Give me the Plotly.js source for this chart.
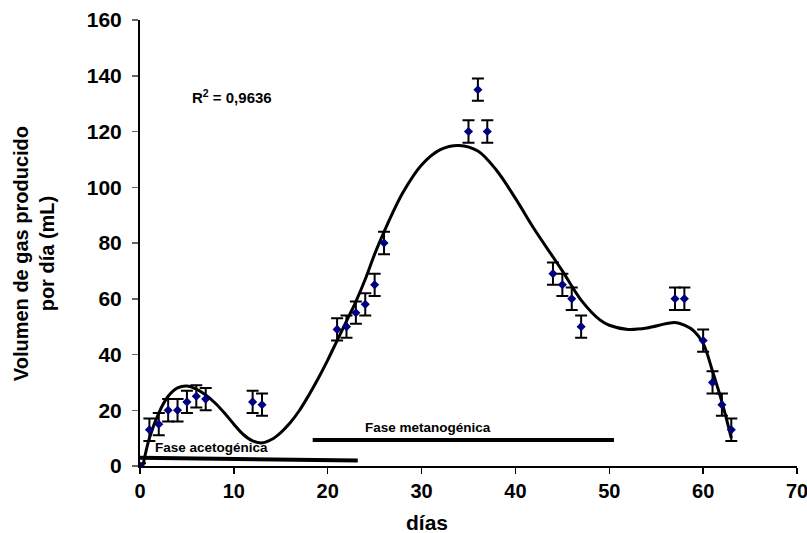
<!DOCTYPE html>
<html>
<head>
<meta charset="utf-8">
<script src="https://cdn.plot.ly/plotly-3.0.1.min.js"></script>
<style>body{margin:0;background:#fff}#chart{width:807px;height:533px}</style>
</head>
<body>
<div id="chart"></div>
<script>
// Measured data (días, mL)
var dias = [0,1,2,3,4,5,6,7,12,13,21,22,23,24,25,26,35,36,37,44,45,46,47,57,58,60,61,62,63];
var volumen = [0,13,15,20,20,23,25,24,23,22,49,50,55,58,65,80,120,135,120,69,65,60,50,60,60,45,30,22,13];
var errores = [1,4,4,4,4,4,4,4,4,4,4,4,4,4,4,4,4,4,4,4,4,4,4,4,4,4,4,4,4];

// Polynomial trend line
var curvaX = [0.3,1,2,3,4,5,6,7,8,9,10,11,12,13,14,15,16,17,18,19,20,21,22,23,24,25,26,28,30,32,34,36,38,40,42,44,45,47,49,50,52,54,56,57,58,59,60,61,62,63];
var curvaY = [0,10,19,25,28,28.7,27.6,25.5,22.6,19,15,11.3,9,8.3,9.5,12,15.5,20,25.5,31.5,38,45,52,59,67,76,84,98,108,113.5,115,113,106,96,85,75,70,59.5,52.4,50.5,49,49.5,51,51.5,50.5,48.5,44,34,23,10];

// Phase bars
var acetoX = [-0.5, 23.2];
var acetoY = [3, 2];
var metanoX = [18.4, 50.5];
var metanoY = [9.3, 9.3];

var xTicks = [0,10,20,30,40,50,60,70];
var yTicks = [0,20,40,60,80,100,120,140,160];

var traces = [
  {x: acetoX, y: acetoY, mode: 'lines', line: {color: '#000', width: 4}, hoverinfo: 'skip'},
  {x: metanoX, y: metanoY, mode: 'lines', line: {color: '#000', width: 4}, hoverinfo: 'skip'},
  {x: curvaX, y: curvaY, mode: 'lines', line: {color: '#000', width: 3, shape: 'spline', smoothing: 1}, hoverinfo: 'skip'},
  {x: dias, y: volumen, mode: 'markers', type: 'scatter',
   marker: {symbol: 'diamond', color: '#000080', size: 7},
   error_y: {type: 'data', array: errores, visible: true, color: '#000', thickness: 2, width: 6}}
];

var layout = {
  width: 807, height: 533,
  margin: {l: 140, r: 10, t: 20, b: 67},
  paper_bgcolor: '#fff', plot_bgcolor: '#fff',
  showlegend: false,
  font: {family: 'Arial, "Liberation Sans", sans-serif', color: '#000'},
  xaxis: {
    range: [0, 70], tickvals: xTicks, ticktext: xTicks.map(String),
    showgrid: false, zeroline: false, showline: true, linecolor: '#000', linewidth: 2,
    ticks: 'outside', ticklen: 6, tickwidth: 1.5, tickcolor: '#000',
    ticklabeloverflow: 'allow',
    tickfont: {size: 20, weight: 'bold'}
  },
  yaxis: {
    range: [0, 160], tickvals: yTicks, ticktext: yTicks.map(String),
    showgrid: false, zeroline: false, showline: true, linecolor: '#000', linewidth: 2,
    ticks: 'outside', ticklen: 6, tickwidth: 1.5, tickcolor: '#666',
    ticklabelstandoff: 6, ticklabeloverflow: 'allow',
    tickfont: {size: 21, weight: 'bold'}
  },
  annotations: [
    {x: 30.6, y: 0, xref: 'x', yref: 'paper', yanchor: 'middle', yshift: -56, text: 'días', showarrow: false, font: {size: 21, weight: 'bold'}},
    {x: 0, y: 0.475, xref: 'paper', yref: 'paper', xanchor: 'center', yanchor: 'middle', xshift: -106, textangle: -90,
     text: 'Volumen de gas producido<br>por día (mL)', showarrow: false, font: {size: 20, weight: 'bold'}},
    {x: 9.8, y: 132.5, xref: 'x', yref: 'y', text: 'R<sup>2</sup> = 0,9636', showarrow: false, font: {size: 15, weight: 'bold'}},
    {x: 7.6, y: 6.8, xref: 'x', yref: 'y', text: 'Fase acetogénica', showarrow: false, font: {size: 13.5, weight: 'bold'}},
    {x: 30.7, y: 13.9, xref: 'x', yref: 'y', text: 'Fase metanogénica', showarrow: false, font: {size: 13.5, weight: 'bold'}}
  ]
};

Plotly.newPlot('chart', traces, layout, {displayModeBar: false, staticPlot: true});
</script>
</body>
</html>
